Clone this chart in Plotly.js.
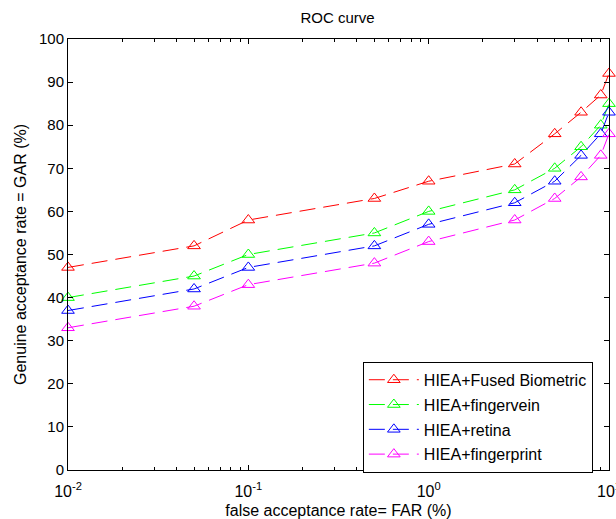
<!DOCTYPE html>
<html>
<head>
<meta charset="utf-8">
<script src="https://cdn.plot.ly/plotly-3.0.1.min.js"></script>
<style>body{margin:0;padding:0;background:#fff;} #chart{width:616px;height:519px;}</style>
</head>
<body>
<div id="chart"></div>
<script>
const far = [0.01, 0.05, 0.1, 0.5, 1, 3, 5, 7, 9, 10];
const garFused = [47, 52, 58, 63, 67, 71, 78, 83, 87, 92];
const garFingervein = [40, 45, 50, 55, 60, 65, 70, 75, 80, 85];
const garRetina = [37, 42, 47, 52, 57, 62, 67, 73, 78, 83];
const garFingerprint = [33, 38, 43, 48, 53, 58, 63, 68, 73, 78];
const seriesNames = ['HIEA+Fused Biometric', 'HIEA+fingervein', 'HIEA+retina', 'HIEA+fingerprint'];
const seriesColors = ['#ff0000', '#00ff00', '#0000ff', '#ff00ff'];
const xTickVals = [0.01, 0.1, 1, 10];
const xTickText = ['10<sup>-2</sup>', '10<sup>-1</sup>', '10<sup>0</sup>', '10<sup>1</sup>'];

const allY = [garFused, garFingervein, garRetina, garFingerprint];
const traces = allY.map((y, i) => ({
  x: far, y: y, type: 'scatter', mode: 'lines+markers', name: seriesNames[i],
  legendgroup: 'g' + i, cliponaxis: false,
  line: {color: seriesColors[i], width: 1, dash: '16px,8px'},
  marker: {symbol: 'triangle-up-open', size: 11, color: seriesColors[i], line: {width: 1, color: seriesColors[i]}}
}));

const fam = 'Liberation Sans, Arial, sans-serif';
const layout = {
  width: 616, height: 519,
  margin: {l: 68, r: 7, t: 39, b: 49},
  paper_bgcolor: '#fff', plot_bgcolor: '#fff',
  font: {family: fam, size: 14, color: '#000'},
  showlegend: true,
  title: {text: 'ROC curve', font: {family: fam, size: 15, color: '#000'}, x: 0.548, xanchor: 'center', y: 0.965, yanchor: 'middle'},
  xaxis: {
    type: 'log', range: [-2, 1],
    tickvals: xTickVals, ticktext: xTickText, ticklabeloverflow: 'allow', ticklabelstandoff: 7,
    ticks: 'inside', ticklen: 5, tickcolor: '#000', showline: true, linecolor: '#000', linewidth: 1,
    mirror: 'allticks', showgrid: false, zeroline: false,
    minor: {ticks: 'inside', ticklen: 3, tickcolor: '#000', dtick: 'D1', showgrid: false},
    tickfont: {family: fam, size: 16, color: '#000'},
    title: {text: 'false acceptance rate= FAR (%)', font: {family: fam, size: 16, color: '#000'}, standoff: 9}
  },
  yaxis: {
    range: [0, 100], dtick: 10,
    ticks: 'inside', ticklen: 5, tickcolor: '#000', showline: true, linecolor: '#000', linewidth: 1,
    mirror: 'allticks', showgrid: false, zeroline: false,
    tickfont: {family: fam, size: 15, color: '#000'},
    title: {text: 'Genuine acceptance rate = GAR (%)', font: {family: fam, size: 16, color: '#000'}, standoff: 8}
  },
  legend: {
    x: 0.545, y: 0.251, xanchor: 'left', yanchor: 'top',
    bgcolor: '#fff', bordercolor: '#000', borderwidth: 1,
    font: {family: fam, size: 16, color: '#000'},
    itemwidth: 50, tracegroupgap: 1
  }
};
Plotly.newPlot('chart', traces, layout, {displayModeBar: false, staticPlot: true});
</script>
</body>
</html>
